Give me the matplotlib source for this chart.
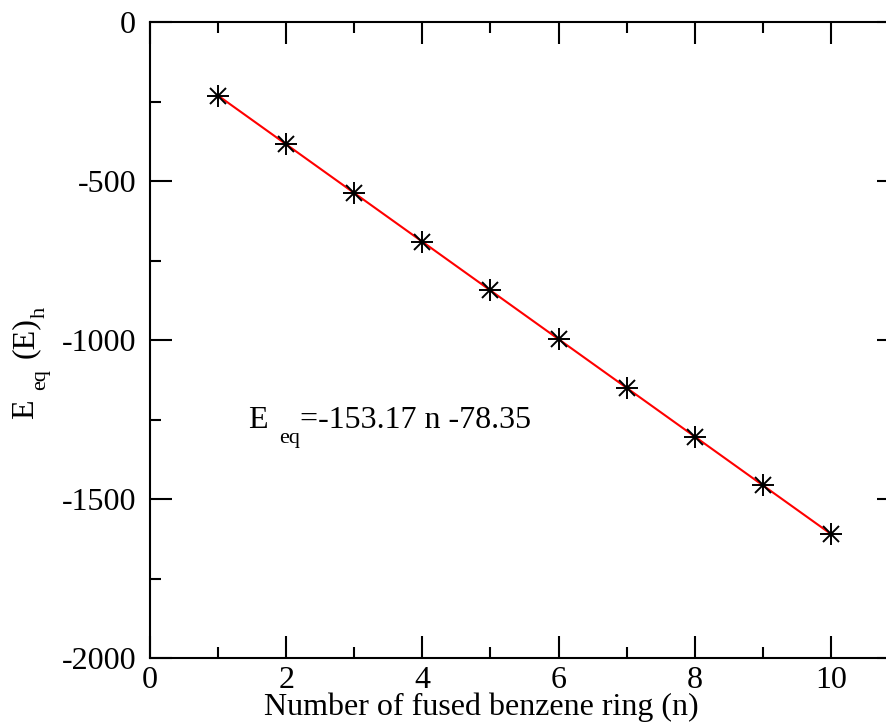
import matplotlib
matplotlib.use('Agg')
import matplotlib.pyplot as plt
from matplotlib.ticker import MultipleLocator
from matplotlib.transforms import IdentityTransform

plt.rcParams['font.family'] = 'Liberation Serif'
plt.rcParams['axes.unicode_minus'] = False

# Equilibrium energy vs number of fused rings
rings = [1, 2, 3, 4, 5, 6, 7, 8, 9, 10]
energy = [-231.5, -384.7, -537.9, -691.0, -844.2, -997.4, -1150.5, -1303.7, -1456.9, -1610.0]

# (text, fontsize, drop in px, gap before in px)
fit_pieces = [('E', 23, 0, 0), ('eq', 16, 15, 11), ('=-153.17 n -78.35', 23, 0, 0)]
ylabel_pieces = [('E', 23, 0, 0), ('eq', 16, 12, 9), ('(E)', 23, 0, 11), ('h', 16, 12, 0)]

W, H = 887, 724
fig = plt.figure(figsize=(W / 100, H / 100), dpi=100)
ax = fig.add_axes([150 / W, 1 - 658 / H, (899 - 150) / W, (658 - 22) / H])

ax.plot(rings, energy, color='red', linewidth=1.5, zorder=2)
ax.plot(rings, energy, linestyle='none', marker='+', markersize=16,
        markeredgewidth=1.4, color='black', zorder=3)
ax.plot(rings, energy, linestyle='none', marker='x', markersize=11.5,
        markeredgewidth=1.4, color='black', zorder=3)

ax.set_xlim(0, 11)
ax.set_ylim(-2000, 0)
ax.xaxis.set_major_locator(MultipleLocator(2))
ax.xaxis.set_minor_locator(MultipleLocator(1))
ax.yaxis.set_major_locator(MultipleLocator(500))
ax.yaxis.set_minor_locator(MultipleLocator(250))
ax.tick_params(which='both', direction='in', top=True, right=True, width=1.5)
ax.tick_params(which='major', length=16, labelsize=23)
ax.tick_params(which='minor', length=8)
ax.tick_params(axis='y', pad=10)
ax.tick_params(axis='x', pad=6)
for s in ax.spines.values():
    s.set_linewidth(1.5)

fig.text(481 / W, 1 - 715 / H, 'Number of fused benzene ring (n)', fontsize=23,
         ha='center', va='baseline')

renderer = fig.canvas.get_renderer()


def pieces_text(x0, y0, pieces, vertical=False):
    # x0, y0: baseline start in display pixels
    pos = 0
    for s, size, drop, gap in pieces:
        pos += gap
        if vertical:
            t = fig.text(x0 + drop, y0 + pos, s, fontsize=size, rotation=90,
                         rotation_mode='anchor', ha='left', va='baseline',
                         transform=IdentityTransform())
            pos += t.get_window_extent(renderer).height
        else:
            t = fig.text(x0 + pos, y0 - drop, s, fontsize=size,
                         ha='left', va='baseline', transform=IdentityTransform())
            pos += t.get_window_extent(renderer).width


pieces_text(248, H - 428, fit_pieces)
pieces_text(33, H - 419, ylabel_pieces, vertical=True)

fig.savefig('out.png', dpi=100)
